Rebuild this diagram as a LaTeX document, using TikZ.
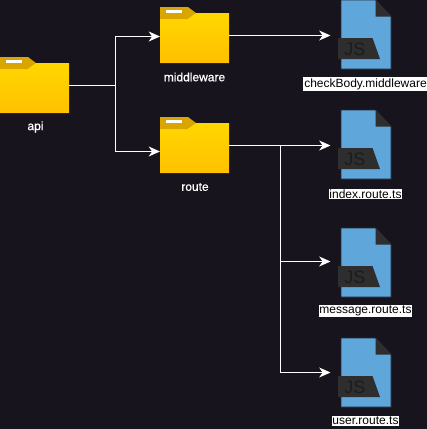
\documentclass[tikz,border=0pt]{standalone}
\usepackage{fontspec}
\setmainfont{Liberation Sans}
\newfontfamily\boldishfont[FakeBold=0.9]{Liberation Sans}
\usetikzlibrary{arrows.meta}
\definecolor{bgdark}{HTML}{18141D}
\definecolor{foldertop}{HTML}{FFD700}
\definecolor{folderbot}{HTML}{FFC000}
\definecolor{foldertab}{HTML}{DBA500}
\definecolor{fileblue}{HTML}{5FA6DA}
\definecolor{filedark}{HTML}{2E2E2E}
\definecolor{jsdark}{HTML}{1C1C1C}
\definecolor{fileedge}{HTML}{1F2C3C}
\tikzset{
  x=0.75pt,y=-0.75pt,
  link/.style={draw=white,line width=0.75pt},
  linkto/.style={link,-{Stealth[length=8.5pt,width=7.5pt,inset=2.6pt]}},
  folderlabel/.style={text=white,font=\boldishfont\fontsize{9}{11}\selectfont,inner sep=0pt},
  filelabel/.style={text=black,fill=white,font=\fontsize{9}{11}\selectfont,inner xsep=0.6pt,inner ysep=0.8pt},
  boxnode/.style={inner sep=0pt,minimum width=51.75pt,minimum height=42pt},
  filenode/.style={inner sep=0pt,minimum width=37.5pt,minimum height=51.75pt},
  jstext/.style={text=jsdark,font=\fontsize{13.5}{14}\selectfont,inner sep=0pt},
}
\newcommand{\folderat}[3]{%
  \node[boxnode,anchor=north west] (#3) at (#1,#2) {};
  \begin{scope}[shift={(#1,#2)}]
    \fill[top color=foldertop,bottom color=folderbot] (0,12) -- (27,12) -- (35,6) -- (69,6) -- (69,56) -- (0,56) -- cycle;
    \fill[foldertab] (0,0) -- (28,0) -- (36,6) -- (27,12) -- (0,12) -- cycle;
    \fill[white] (6,3) rectangle (22,6);
  \end{scope}}
\newcommand{\fileat}[3]{%
  \node[filenode,anchor=north west] (#3) at (#1,#2) {};
  \begin{scope}[shift={(#1,#2)}]
    \filldraw[fill=fileblue,draw=fileedge,line width=0.4pt] (0,0) -- (34.5,0) -- (50,16.5) -- (50,69) -- (0,69) -- cycle;
    \fill[filedark] (34.5,0) -- (50,16.5) -- (34.5,16.5) -- cycle;
    \fill[filedark] (-3,38) -- (31.5,38) -- (39,59) -- (-3,59) -- cycle;
    \node[jstext] at (14,49) {JS};
  \end{scope}}
\begin{document}
\begin{tikzpicture}
\useasboundingbox (0,0) rectangle (427,429);
\fill[bgdark] (0,0) rectangle (427,429);
\folderat{0}{57}{api}
\folderat{160}{7}{middleware}
\folderat{160}{117}{route}
\fileat{341}{0}{checkbody}
\fileat{341}{110}{index}
\fileat{341}{228}{message}
\fileat{341}{338}{user}
\node[folderlabel] (apilabel) at (35.5,127) {api};
\node[folderlabel] (middlewarelabel) at (194.5,77) {middleware};
\node[folderlabel] (routelabel) at (195,187) {route};
\node[filelabel] (checkbodylabel) at (365.5,84) {checkBody.middleware};
\node[filelabel] (indexlabel) at (365.5,194) {index.route.ts};
\node[filelabel] (messagelabel) at (365.5,311) {message.route.ts};
\node[filelabel] (userlabel) at (365.5,421) {user.route.ts};
% free ends of the connectors
\coordinate (apiout) at (69,85.5);
\coordinate (apijoin) at (115,85.5);
\coordinate (mwin) at (160,36.5);
\coordinate (routein) at (160,151.5);
\coordinate (mwout) at (229,35.5);
\coordinate (routeout) at (229,145.5);
\coordinate (routejoin) at (280,145.5);
\coordinate (checkin) at (330.5,35.5);
\coordinate (indexin) at (330.5,145.5);
\coordinate (messagein) at (330.5,261.5);
\coordinate (userin) at (330.5,372.5);
\draw[link] (apiout) -- (apijoin);
\draw[linkto] (apijoin) |- (mwin);
\draw[linkto] (apijoin) |- (routein);
\draw[linkto] (mwout) -- (checkin);
\draw[linkto] (routeout) -- (indexin);
\draw[linkto] (routejoin) |- (messagein);
\draw[linkto] (routejoin) |- (userin);
\end{tikzpicture}
\end{document}
